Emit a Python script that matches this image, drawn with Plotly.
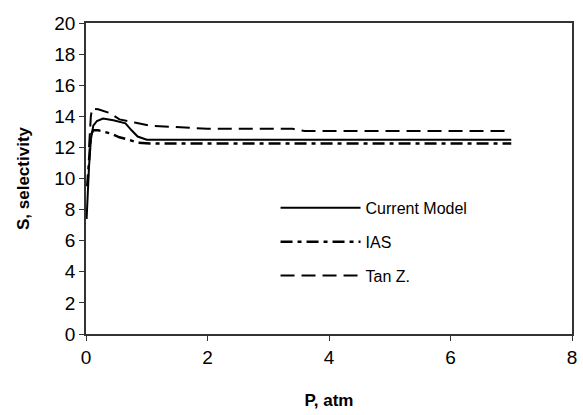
import plotly.graph_objects as go

# Current Model
p_cur = [0.01, 0.03, 0.05, 0.08, 0.12, 0.18, 0.28, 0.45, 0.65, 0.75, 0.85, 1.0, 2, 3, 4, 5, 6, 7]
s_cur = [7.4, 9.8, 10.8, 12.5, 13.4, 13.7, 13.85, 13.75, 13.55, 13.1, 12.7, 12.5, 12.5, 12.5, 12.5, 12.5, 12.5, 12.5]

# IAS
p_ias = [0.02, 0.05, 0.08, 0.12, 0.2, 0.4, 0.55, 0.7, 0.85, 1.05, 2, 3, 4, 5, 6, 7]
s_ias = [9.5, 11.5, 12.8, 13.1, 13.1, 12.9, 12.65, 12.5, 12.3, 12.25, 12.25, 12.25, 12.25, 12.25, 12.25, 12.25]

# Tan Z.
p_tan = [0.05, 0.08, 0.1, 0.2, 0.4, 0.55, 0.8, 1.05, 2, 3, 3.4, 3.6, 4, 5, 6, 7]
s_tan = [12.0, 14.0, 14.5, 14.45, 14.2, 13.8, 13.6, 13.4, 13.2, 13.2, 13.2, 13.05, 13.05, 13.05, 13.05, 13.05]

x_ticks = [0, 2, 4, 6, 8]
y_ticks = [0, 2, 4, 6, 8, 10, 12, 14, 16, 18, 20]

FONT = "Liberation Sans, Arial, sans-serif"

fig = go.Figure()
fig.add_trace(go.Scatter(x=p_cur, y=s_cur, mode="lines", name="Current Model",
                         legendgroup="a",
                         line=dict(color="black", width=2, dash="solid")))
fig.add_trace(go.Scatter(x=p_ias, y=s_ias, mode="lines", name="IAS",
                         legendgroup="b",
                         line=dict(color="black", width=2.5, dash="12px,5px,4px,5px")))
fig.add_trace(go.Scatter(x=p_tan, y=s_tan, mode="lines", name="Tan Z.",
                         legendgroup="c",
                         line=dict(color="black", width=2, dash="14px,7px")))

fig.update_layout(
    width=583, height=415,
    margin=dict(l=86, r=6, t=23, b=81),
    paper_bgcolor="white", plot_bgcolor="white",
    font=dict(family=FONT, color="black", size=18),
    showlegend=True,
    legend=dict(x=0.39, y=0.46, xanchor="left", yanchor="top",
                font=dict(size=16, family=FONT), tracegroupgap=10,
                itemwidth=80, bgcolor="rgba(0,0,0,0)"),
    xaxis=dict(range=[0, 8], tickvals=x_ticks, ticks="outside", ticklen=5,
               tickcolor="#333", showline=True, linecolor="#333", linewidth=1.5,
               mirror=True, showgrid=False, zeroline=False,
               tickfont=dict(size=19),
               title=dict(text="<b>P, atm</b>", font=dict(size=17), standoff=28)),
    yaxis=dict(range=[0, 20], tickvals=y_ticks, ticks="outside", ticklen=5,
               tickcolor="#333", showline=True, linecolor="#333", linewidth=1.5,
               mirror=True, showgrid=False, zeroline=False,
               tickfont=dict(size=19),
               title=dict(text="<b>S, selectivity</b>", font=dict(size=17), standoff=20)),
)

fig.write_html("out.html")
